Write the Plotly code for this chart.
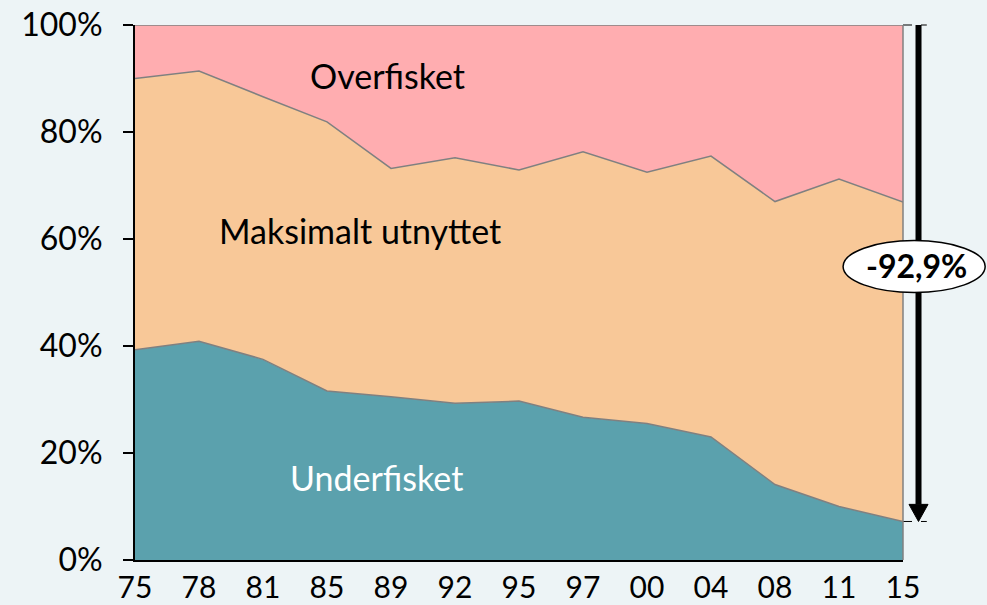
import plotly.graph_objects as go

years = ["75", "78", "81", "85", "89", "92", "95", "97", "00", "04", "08", "11", "15"]
underfisket = [39.3, 40.9, 37.5, 31.6, 30.5, 29.3, 29.7, 26.7, 25.5, 23.0, 14.1, 10.0, 7.2]
maksimalt = [50.7, 50.5, 49.1, 50.3, 42.7, 45.9, 43.2, 49.6, 47.0, 52.5, 52.9, 61.2, 59.7]
overfisket = [10.0, 8.6, 13.4, 18.1, 26.8, 24.8, 27.1, 23.7, 27.5, 24.5, 33.0, 28.8, 33.1]
y_ticks = [0, 20, 40, 60, 80, 100]
y_labels = [f"{v}%" for v in y_ticks]
change_label = "-92,9%"

FONT = "Lato"
BG = "#EDF4F6"
EDGE = "#808080"

fig = go.Figure()
for name, vals, col in [("Underfisket", underfisket, "#5BA1AD"),
                        ("Maksimalt utnyttet", maksimalt, "#F8C898"),
                        ("Overfisket", overfisket, "#FFADB0")]:
    fig.add_trace(go.Scatter(x=years, y=vals, name=name, mode="lines",
                             stackgroup="one", fillcolor=col,
                             line=dict(color=EDGE, width=1.5)))

# arrow spans from 100 % down to the last underfisket value (y paper = value / 100)
top = 1.0
bot = underfisket[-1] / 100.0
head_h = 0.032
xc, xl, xr = 1.0202, 1.0078, 1.0326
shapes = [
    dict(type="line", xref="paper", yref="paper", x0=1, x1=1, y0=0, y1=1,
         line=dict(color=EDGE, width=1.5)),
    dict(type="line", xref="paper", yref="paper", x0=1.0, x1=1.031, y0=top, y1=top,
         layer="below", line=dict(color="black", width=1, dash="dash")),
    dict(type="line", xref="paper", yref="paper", x0=1.0, x1=1.031, y0=bot, y1=bot,
         layer="below", line=dict(color="black", width=1, dash="dash")),
    dict(type="line", xref="paper", yref="paper", x0=xc, x1=xc, y0=top, y1=bot + head_h,
         layer="below", line=dict(color="black", width=6)),
    dict(type="path", xref="paper", yref="paper",
         path=f"M {xl},{bot + head_h} L {xr},{bot + head_h} L {xc},{bot} Z",
         layer="below", fillcolor="black", line=dict(color="black", width=1)),
    dict(type="circle", xref="paper", yref="paper", x0=0.922, x1=1.107, y0=0.5, y1=0.597,
         layer="above", fillcolor="white", line=dict(color="black", width=1.5)),
]

annotations = [
    dict(text="Overfisket", x=0.329, y=0.905, font=dict(family=FONT, size=34, color="black")),
    dict(text="Maksimalt utnyttet", x=0.293, y=0.616, font=dict(family=FONT, size=34, color="black")),
    dict(text="Underfisket", x=0.314, y=0.154, font=dict(family=FONT, size=34, color="white")),
    dict(text="<b>" + change_label + "</b>", x=1.018, y=0.551,
         font=dict(family=FONT, size=32, color="black")),
]
for a in annotations:
    a.update(xref="paper", yref="paper", showarrow=False, xanchor="center", yanchor="middle")

fig.update_layout(
    width=987, height=605,
    margin=dict(l=135, r=84, t=25, b=45, autoexpand=False),
    paper_bgcolor=BG, plot_bgcolor=BG,
    showlegend=False,
    font=dict(family=FONT, size=30, color="black"),
    shapes=shapes, annotations=annotations,
    xaxis=dict(type="category", range=[0, 12], showgrid=False, zeroline=False,
               showline=True, linecolor="black", linewidth=2, ticks="",
               automargin=False,
               tickfont=dict(family=FONT, size=30), layer="above traces"),
    yaxis=dict(range=[0, 100], tickvals=y_ticks, ticktext=y_labels, showgrid=False,
               zeroline=False, showline=True, linecolor="black", linewidth=2,
               ticks="outside", ticklen=10, tickwidth=2, tickcolor="black",
               ticklabelstandoff=14, automargin=False,
               tickfont=dict(family=FONT, size=32), layer="above traces"),
)

fig.write_html("out.html", config={"displayModeBar": False},
               post_script="document.body.style.margin='0';document.body.style.overflow='hidden';")
